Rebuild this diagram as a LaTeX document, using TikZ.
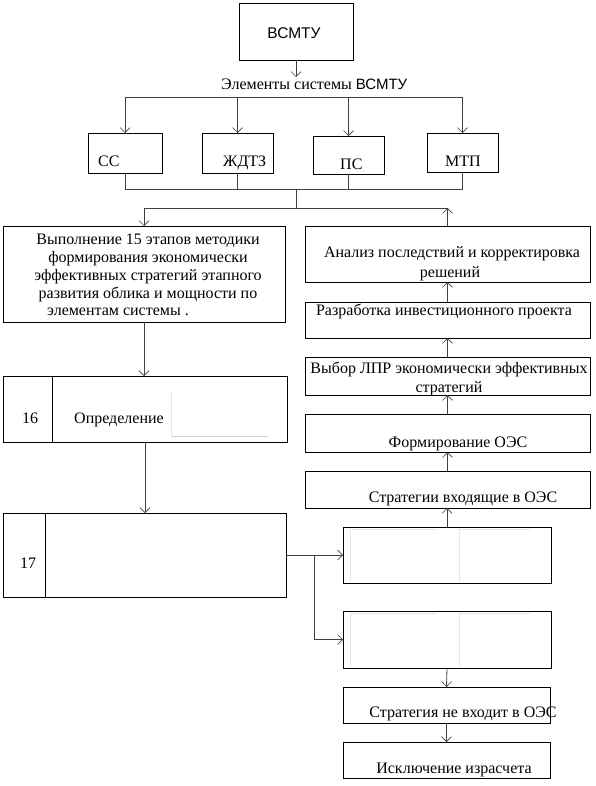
\documentclass[tikz,border=0pt]{standalone}
\usepackage{fontspec}
\setmainfont{Liberation Serif}
\newfontfamily\arialf{Liberation Sans}
\usetikzlibrary{arrows.meta}
\newcommand\mybox[5]{\node[box, minimum width={(#4-#2)*1pt}, minimum height={(#5-#3)*1pt}] (#1) at ({(#2+#4)/2},{(#3+#5)/2}) {};}
\begin{document}
\begin{tikzpicture}[x=1pt,y=-1pt,
  box/.style={draw=black, line width=0.95pt, inner sep=0pt, outer sep=0pt},
  conn/.style={draw=black!75, line width=0.8pt},
  arr/.style={conn, -{Straight Barb[length=5pt,width=10pt,line width=0.6pt]}},
  txt/.style={inner sep=0pt, anchor=base, font=\fontsize{16}{17}\selectfont},
  txtw/.style={txt, anchor=base west},
  sans/.style={inner sep=0pt, anchor=base, font=\arialf\fontsize{15.5}{17}\selectfont},
  faint/.style={draw=black!18, line width=0.6pt}]
\useasboundingbox (0,0) rectangle (595,786);
% boxes
\mybox{top}{239}{3}{353}{60}
\mybox{cc}{88}{133}{162}{173}
\mybox{zd}{202}{133}{273}{173}
\mybox{ps}{313}{136}{384}{174}
\mybox{mtp}{427}{133}{498}{172}
\mybox{b1}{3}{226}{285}{322}
\mybox{an}{305}{226}{590}{282}
\mybox{rz}{305}{302}{590}{338}
\mybox{vy}{305}{357}{590}{395}
\mybox{fo}{305}{414}{590}{452}
\mybox{sv}{305}{471}{590}{508}
\mybox{b16}{3}{376}{287}{442}
\mybox{b17}{3}{513}{286}{597}
\mybox{ba}{343}{527}{551}{583}
\mybox{bb}{343}{611}{551}{668}
\mybox{sn}{343}{687}{550}{723}
\mybox{is}{343}{742}{550}{778}
% dividers
\coordinate (d16) at (52,400);
\coordinate (d17) at (45,550);
\draw[box] (d16 |- b16.north) -- (d16 |- b16.south);
\draw[box] (d17 |- b17.north) -- (d17 |- b17.south);
% faint artefacts
\draw[faint] (171,436) -- (268,436);
\draw[draw=black!10, line width=0.5pt] (171,392) -- (171,436);
\draw[draw=black!10, line width=0.5pt] (350,529) -- (350,581) (459,529) -- (459,581);
\draw[draw=black!10, line width=0.5pt] (350,613) -- (350,666) (459,613) -- (459,666);
\draw[draw=black!10, line width=0.5pt] (350,529) -- (437,529) (460,529) -- (530,529);
\draw[draw=black!10, line width=0.5pt] (350,613) -- (437,613) (460,613) -- (530,613);
% texts
\node[sans] (ttop) at (294,39) {ВСМТУ};
\node[txtw] (lbl) at (221,90) {Элементы системы {\arialf\fontsize{15}{17}\selectfont ВСМТУ}};
\node[txtw] (tcc) at (98,167) {СС};
\node[txtw] (tzd) at (223,167) {ЖДТЗ};
\node[txtw] (tps) at (340,170) {ПС};
\node[txtw] (tmtp) at (445,167) {МТП};
\node[txt] (t1a) at (148,244) {Выполнение 15 этапов методики};
\node[txt] (t1b) at (148,262) {формирования экономически};
\node[txt] (t1c) at (148,280) {эффективных стратегий этапного};
\node[txt] (t1d) at (148,298) {развития облика и мощности по};
\node[txtw] (t1e) at (47,315) {элементам системы .};
\node[txt] (tan1) at (452,257) {Анализ последствий и корректировка};
\node[txt] (tan2) at (450,277) {решений};
\node[txt] (trz) at (444,315) {Разработка инвестиционного проекта};
\node[txt] (tvy1) at (449,373) {Выбор ЛПР экономически эффективных};
\node[txt] (tvy2) at (449,392) {стратегий};
\node[txt] (tfo) at (458,447) {Формирование ОЭС};
\node[txt] (tsv) at (463,502) {Стратегии входящие в ОЭС};
\node[txt] (tsn) at (463,717) {Стратегия не входит в ОЭС};
\node[txt] (tis) at (454,773) {Исключение израсчета};
\node[txt] (t16) at (30,423) {16};
\node[txtw] (topr) at (74,423) {Определение};
\node[txt] (t17) at (28,568) {17};
% helper coordinates
\coordinate (hA) at (0,97);
\coordinate (hB) at (0,189);
\coordinate (hC) at (0,208);
\coordinate (br) at (314,555);
% connectors
\draw[arr] (top.south) -- ++(0,17);
\draw[conn] (cc.north |- hA) -- (mtp.north |- hA);
\foreach \n in {cc,zd,ps,mtp} {\draw[arr] (\n.north |- hA) -- (\n.north);}
\draw[conn] (cc.south |- hB) -- (mtp.south |- hB);
\foreach \n in {cc,zd,ps,mtp} {\draw[conn] (\n.south) -- (\n.south |- hB);}
\draw[conn] (top.south |- hB) -- (top.south |- hC);
\draw[conn] (b1.north |- hC) -- (an.north |- hC);
\draw[arr] (b1.north |- hC) -- (b1.north);
\draw[arr] (an.north) -- (an.north |- hC);
\draw[arr] (rz.north) -- (an.south);
\draw[arr] (vy.north) -- (rz.south);
\draw[arr] (fo.north) -- (vy.south);
\draw[arr] (sv.north) -- (fo.south);
\draw[arr] (ba.north) -- (ba.north |- sv.south);
\draw[arr] (bb.south) -- (sn.north);
\draw[arr] (sn.south) -- (is.north);
\draw[arr] (b1.south) -- (b1.south |- b16.north);
\draw[arr] (b16.south) -- (b16.south |- b17.north);
\draw[arr] (b17.east) -- (ba.west);
\draw[arr] (br) -- (br |- bb.west) -- (bb.west);
\end{tikzpicture}
\end{document}
